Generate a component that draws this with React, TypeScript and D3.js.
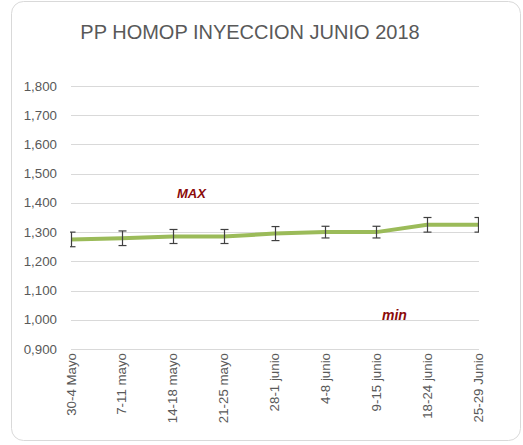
import React, { useRef, useEffect } from 'react';
import * as d3 from 'd3';

const categories = ['30-4 Mayo', '7-11 mayo', '14-18 mayo', '21-25 mayo', '28-1 junio', '4-8 junio', '9-15 junio', '18-24 junio', '25-29 Junio'];
const values = [1275, 1279, 1285, 1285, 1295, 1300, 1300, 1325, 1325];
const errors = [25, 25, 24, 24, 24, 20, 20, 25, 25];
const yTicks = [900, 1000, 1100, 1200, 1300, 1400, 1500, 1600, 1700, 1800];

const W = 523;
const H = 445;

// excel-like "0,900" / "1,800"
const fmtY = (t: number) => t < 1000 ? '0,' + d3.format('03d')(t) : d3.format(',')(t);

const App = () => {
  const svgRef = useRef<SVGSVGElement>(null);

  useEffect(() => {
    const svg = d3.select(svgRef.current);
    svg.selectAll('*').remove();

    const left = 71, right = 478;
    const x = d3.scalePoint<string>().domain(categories).range([left, right]);
    const y = d3.scaleLinear().domain([900, 1800]).range([349, 86]);
    const grey = '#595959';

    // chart border
    svg.append('rect')
      .attr('x', 11.5).attr('y', 1.5)
      .attr('width', 509).attr('height', 439)
      .attr('rx', 12)
      .attr('fill', '#ffffff')
      .attr('stroke', '#D9D9D9');

    svg.append('text')
      .attr('x', 250).attr('y', 39)
      .attr('text-anchor', 'middle')
      .attr('font-family', 'Liberation Sans, Arial, sans-serif')
      .attr('font-size', '20px')
      .attr('fill', grey)
      .text('PP HOMOP INYECCION JUNIO 2018');

    // gridlines + y labels
    const g = svg.append('g');
    yTicks.forEach(t => {
      g.append('line')
        .attr('x1', left).attr('x2', right + 1)
        .attr('y1', Math.round(y(t)) + 0.5).attr('y2', Math.round(y(t)) + 0.5)
        .attr('stroke', '#D9D9D9').attr('stroke-width', 1);
      g.append('text')
        .attr('x', 57).attr('y', y(t) + 4.5)
        .attr('text-anchor', 'end')
        .attr('font-family', 'Liberation Sans, Arial, sans-serif')
        .attr('font-size', '13.3px')
        .attr('fill', grey)
        .text(fmtY(t));
    });

    // x labels, rotated
    categories.forEach(c => {
      g.append('text')
        .attr('transform', `translate(${x(c)! + 4.5},353) rotate(-90)`)
        .attr('text-anchor', 'end')
        .attr('font-family', 'Liberation Sans, Arial, sans-serif')
        .attr('font-size', '13.3px')
        .attr('fill', grey)
        .text(c);
    });

    svg.append('clipPath').attr('id', 'plotclip')
      .append('rect').attr('x', left - 1).attr('y', 60).attr('width', right - left + 2).attr('height', 300);

    const line = d3.line<number>()
      .x((d, i) => x(categories[i])!)
      .y(d => y(d));

    svg.append('path')
      .attr('d', line(values))
      .attr('fill', 'none')
      .attr('stroke', '#9BBB59')
      .attr('stroke-width', 4)
      .attr('stroke-linejoin', 'round');

    // error bars
    const eb = svg.append('g').attr('clip-path', 'url(#plotclip)')
      .attr('stroke', '#404040').attr('stroke-width', 1.2);
    values.forEach((v, i) => {
      const cx = Math.round(x(categories[i])!) + 0.5;
      const y1 = y(v + errors[i]), y2 = y(v - errors[i]);
      eb.append('line').attr('x1', cx).attr('x2', cx).attr('y1', y1).attr('y2', y2);
      eb.append('line').attr('x1', cx - 4).attr('x2', cx + 4).attr('y1', y1).attr('y2', y1);
      eb.append('line').attr('x1', cx - 4).attr('x2', cx + 4).attr('y1', y2).attr('y2', y2);
    });

    // MAX / min annotations
    svg.append('text')
      .attr('x', 177).attr('y', 198)
      .attr('font-family', 'Liberation Sans, Arial, sans-serif')
      .attr('font-size', '13px').attr('font-weight', 'bold').attr('font-style', 'italic')
      .attr('fill', '#8B0A0A')
      .text('MAX');
    svg.append('text')
      .attr('x', 382).attr('y', 320)
      .attr('font-family', 'Liberation Sans, Arial, sans-serif')
      .attr('font-size', '14px').attr('font-weight', 'bold').attr('font-style', 'italic')
      .attr('fill', '#8B0A0A')
      .text('min');
  }, []);

  return (
    <svg ref={svgRef} width={W} height={H} style={{ position: 'absolute', left: 0, top: 0, background: '#ffffff' }}></svg>
  );
};

export default App;
